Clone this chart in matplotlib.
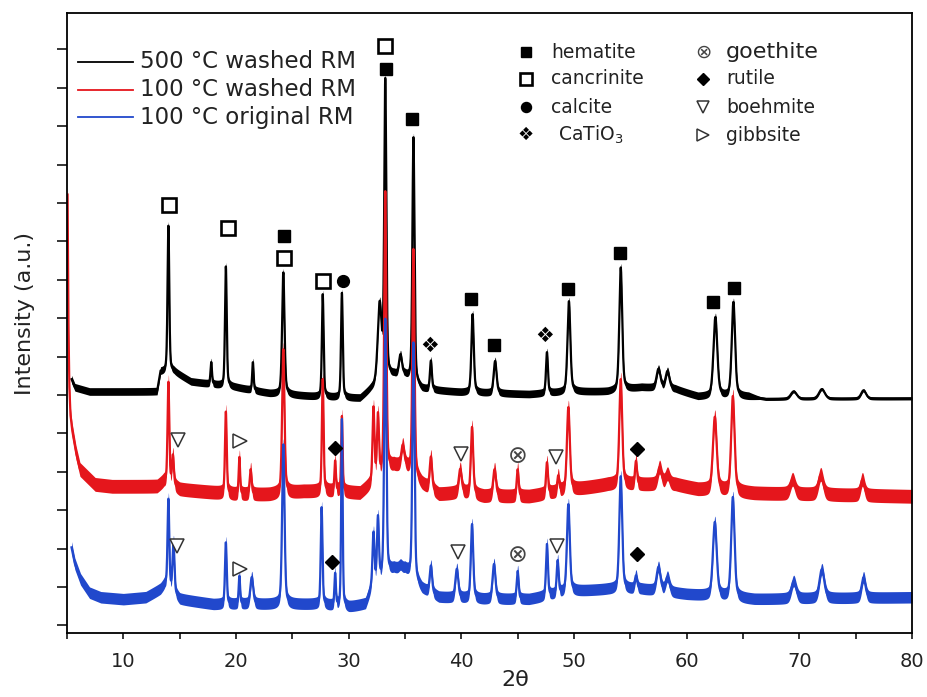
import numpy as np
import matplotlib.pyplot as plt

plt.rcParams['font.family'] = ['DejaVu Sans']

# ---- XRD patterns (2theta in degrees, intensity in a.u.) ----
# background anchors
black_bg_x = [5.4, 5.7, 7, 13.0, 13.3, 14.5, 16, 20, 23, 27, 31, 32, 34, 35, 36.5, 40, 46, 50, 53, 56, 59, 61, 65.5, 67, 80]
black_bg_y = [6.41, 6.20, 6.09, 6.09, 6.61, 6.61, 6.35, 6.20, 6.04, 5.96, 5.91, 6.15, 6.50, 6.50, 6.15, 6.07, 6.02, 6.09, 6.09, 6.20, 6.15, 5.96, 5.96, 5.89, 5.91]

red_bg_x = [5.05, 5.12, 5.2, 5.3, 5.45, 5.8, 6.15, 7.5, 9, 13, 13.6, 15, 20, 23, 26, 29, 31, 32, 34, 35, 36.5, 38, 40, 42, 46, 50, 53, 56, 59, 61, 66, 80]
red_bg_y = [11.22, 8.0, 6.3, 5.5, 5.10, 4.50, 4.06, 3.67, 3.62, 3.62, 3.75, 3.54, 3.41, 3.41, 3.49, 3.49, 3.44, 3.67, 4.14, 4.14, 3.67, 3.41, 3.46, 3.36, 3.36, 3.54, 3.67, 3.67, 3.67, 3.54, 3.44, 3.36]

blue_bg_x = [5.4, 5.7, 6.2, 7, 8, 10, 12, 13.3, 13.7, 15, 18, 23, 27, 30, 31.5, 32, 34, 35, 36.5, 38, 42, 46, 50, 53, 56, 60, 66, 80]
blue_bg_y = [2.03, 1.60, 1.20, 0.85, 0.73, 0.68, 0.73, 0.94, 1.07, 0.68, 0.55, 0.55, 0.55, 0.47, 0.55, 0.94, 1.46, 1.46, 0.94, 0.73, 0.68, 0.68, 0.89, 0.94, 0.94, 0.81, 0.68, 0.73]

# peaks: position, apex, width (FWHM)
black_pos = [14.0, 17.8, 19.1, 21.5, 24.2, 27.7, 29.4, 32.75, 33.25, 34.6, 35.75, 37.3, 41.0, 43.0, 47.6, 49.55, 54.15, 57.5, 58.3, 62.55, 64.15, 69.5, 72.0, 75.7]
black_top = [10.42, 6.85, 9.35, 6.85, 9.19, 8.62, 8.65, 8.3, 14.14, 7.01, 12.71, 6.88, 8.10, 6.88, 7.11, 8.44, 9.32, 6.67, 6.61, 8.02, 8.41, 6.09, 6.15, 6.12]
black_fwhm = [0.18, 0.15, 0.18, 0.15, 0.25, 0.18, 0.18, 0.4, 0.22, 0.3, 0.22, 0.2, 0.25, 0.3, 0.2, 0.3, 0.3, 0.4, 0.4, 0.4, 0.35, 0.6, 0.6, 0.5]

red_pos = [14.0, 14.4, 19.1, 20.3, 21.3, 24.2, 27.7, 28.8, 29.4, 32.2, 32.6, 33.25, 34.8, 35.75, 37.3, 39.9, 40.95, 42.95, 45.0, 47.6, 48.6, 49.5, 54.15, 55.5, 57.6, 58.3, 62.5, 64.1, 69.4, 71.9, 75.6]
red_top = [6.33, 4.40, 5.57, 4.38, 4.06, 7.19, 6.41, 4.27, 5.44, 5.63, 5.42, 11.28, 4.66, 9.79, 4.38, 4.06, 5.16, 4.06, 4.06, 4.24, 3.88, 5.68, 6.41, 4.27, 4.11, 3.93, 5.42, 5.96, 3.80, 3.93, 3.80]
red_fwhm = [0.18, 0.2, 0.18, 0.15, 0.2, 0.25, 0.18, 0.15, 0.15, 0.2, 0.2, 0.22, 0.3, 0.22, 0.25, 0.3, 0.25, 0.3, 0.2, 0.2, 0.2, 0.3, 0.3, 0.2, 0.4, 0.4, 0.4, 0.35, 0.5, 0.5, 0.4]

blue_pos = [14.0, 14.45, 19.1, 20.3, 21.4, 24.2, 27.6, 28.8, 29.4, 32.2, 32.6, 33.25, 34.6, 35.75, 37.3, 39.6, 40.95, 42.9, 45.0, 47.6, 48.55, 49.5, 54.15, 55.5, 57.5, 58.3, 62.5, 64.1, 69.5, 72.0, 75.7]
blue_top = [3.28, 2.16, 2.16, 1.28, 1.25, 4.71, 3.07, 1.33, 5.36, 2.37, 2.76, 7.97, 1.54, 7.37, 1.54, 1.46, 2.63, 1.59, 1.41, 2.11, 1.67, 3.15, 3.88, 1.28, 1.51, 1.25, 2.68, 3.33, 1.15, 1.46, 1.25]
blue_fwhm = [0.18, 0.2, 0.18, 0.15, 0.3, 0.25, 0.18, 0.15, 0.15, 0.2, 0.2, 0.22, 0.3, 0.22, 0.25, 0.3, 0.25, 0.3, 0.2, 0.2, 0.2, 0.3, 0.3, 0.25, 0.4, 0.4, 0.4, 0.35, 0.5, 0.5, 0.4]

# spread of the noisy trace (half width, a.u.)
black_noise_x = [5, 65.5, 66.5, 80]
black_noise_y = [0.10, 0.10, 0.04, 0.04]
red_noise = 0.18
blue_noise = 0.15

# phase markers (2theta, a.u.)
hematite_x = [24.25, 33.3, 35.6, 40.9, 42.9, 49.5, 54.1, 62.3, 64.2]
hematite_y = [10.13, 14.48, 13.18, 8.49, 7.29, 8.75, 9.71, 8.41, 8.78]
cancrinite_x = [14.05, 19.3, 24.25, 27.7, 33.2]
cancrinite_y = [10.96, 10.36, 9.56, 8.98, 15.1]
calcite_x = [29.5]
calcite_y = [8.98]
catio3_x = [37.2, 47.4]
catio3_y = [7.27, 7.53]
rutile_x = [28.8, 55.6, 28.5, 55.6]
rutile_y = [4.61, 4.58, 1.64, 1.85]
boehmite_x = [14.85, 40.0, 48.4, 14.75, 39.7, 48.5]
boehmite_y = [4.84, 4.45, 4.38, 2.06, 1.90, 2.06]
gibbsite_x = [20.35, 20.35]
gibbsite_y = [4.79, 1.46]
goethite_x = [45.0, 45.0]
goethite_y = [4.40, 1.82]

series_labels = ["500 °C washed RM", "100 °C washed RM", "100 °C original RM"]


def pattern(x, pos, top, fwhm, bg_x, bg_y):
    y = np.interp(x, bg_x, bg_y)
    for p, t, w in zip(pos, top, fwhm):
        h = max(t - np.interp(p, bg_x, bg_y), 0)
        d = (x - p) / w
        y = y + h * (0.6 * np.exp(-4 * np.log(2) * d ** 2) + 0.4 / (1 + 4 * d ** 2))
    return y


fig = plt.figure(figsize=(9.28, 6.97), dpi=100)
ax = fig.add_axes([67 / 928, 64 / 697, 845 / 928, 620 / 697])

colors = ['black', '#e5161c', '#2148cc']

xb = np.linspace(5.4, 80, 6000)
yb = pattern(xb, black_pos, black_top, black_fwhm, black_bg_x, black_bg_y)
nb = np.interp(xb, black_noise_x, black_noise_y)
xr = np.linspace(5.05, 80, 6000)
yr = pattern(xr, red_pos, red_top, red_fwhm, red_bg_x, red_bg_y)
xl = np.linspace(5.4, 80, 6000)
yl = pattern(xl, blue_pos, blue_top, blue_fwhm, blue_bg_x, blue_bg_y)

for (x, y, n), c, lab in zip([(xb, yb, nb), (xr, yr, red_noise), (xl, yl, blue_noise)], colors, series_labels):
    ax.fill_between(x, y - n, y + n, color=c, lw=0)
    ax.plot(x, y, color=c, lw=1.6)

# marker styles for the phases
styles = {
    'hematite': dict(marker='s', ms=8.5, mfc='black', mec='black', ls='none'),
    'cancrinite': dict(marker='s', ms=10, mfc='white', mec='black', mew=1.9, ls='none'),
    'calcite': dict(marker='o', ms=8.5, mfc='black', mec='black', ls='none'),
    'rutile': dict(marker='D', ms=7.5, mfc='black', mec='black', ls='none'),
    'boehmite': dict(marker='v', ms=10, mfc='white', mec='#333333', mew=1.1, ls='none'),
    'gibbsite': dict(marker='>', ms=10, mfc='white', mec='#333333', mew=1.1, ls='none'),
}

ax.plot(hematite_x, hematite_y, **styles['hematite'])
ax.plot(cancrinite_x, cancrinite_y, **styles['cancrinite'])
ax.plot(calcite_x, calcite_y, **styles['calcite'])
ax.plot(rutile_x, rutile_y, **styles['rutile'])
ax.plot(boehmite_x, boehmite_y, **styles['boehmite'])
ax.plot(gibbsite_x, gibbsite_y, **styles['gibbsite'])
for gx, gy in zip(goethite_x, goethite_y):
    ax.text(gx, gy, '⊗', fontsize=17, color='#444444', ha='center', va='center')
for cx, cy in zip(catio3_x, catio3_y):
    ax.text(cx, cy, '❖', fontsize=15, color='black', ha='center', va='center')

# series legend (top left)
for i, (c, lab) in enumerate(zip(colors, series_labels)):
    ly = 0.921 - i * 0.0445
    ax.plot([0.013, 0.078], [ly, ly], color=c, lw=1.3, transform=ax.transAxes)
    ax.text(0.086, ly, lab, fontsize=16.5, va='center', ha='left', color='#222222',
            transform=ax.transAxes)

# phase legend (top right)
rows = [0.937, 0.894, 0.848, 0.803]
for ry, key, lab in zip(rows[:3], ['hematite', 'cancrinite', 'calcite'], ['hematite', 'cancrinite', 'calcite']):
    st = dict(styles[key])
    st['ms'] = st['ms'] * 0.85
    ax.plot([0.543], [ry], transform=ax.transAxes, **st)
    ax.text(0.573, ry, lab, fontsize=13.5, va='center', ha='left', color='#222222', transform=ax.transAxes)
ax.text(0.543, rows[3], '❖', fontsize=13, ha='center', va='center', transform=ax.transAxes)
ax.text(0.581, rows[3], 'CaTiO$_3$', fontsize=13.5, va='center', ha='left', color='#222222',
        transform=ax.transAxes)

ax.text(0.753, rows[0], '⊗', fontsize=14, ha='center', va='center', color='#444444', transform=ax.transAxes)
ax.text(0.780, rows[0], 'goethite', fontsize=16, va='center', ha='left', color='#222222', transform=ax.transAxes)
for ry, key, lab in zip(rows[1:], ['rutile', 'boehmite', 'gibbsite'], ['rutile', 'boehmite', 'gibbsite']):
    st = dict(styles[key])
    st['ms'] = st['ms'] * 0.8
    ax.plot([0.753], [ry], transform=ax.transAxes, **st)
    ax.text(0.780, ry, lab, fontsize=13.5, va='center', ha='left', color='#222222', transform=ax.transAxes)

ax.set_xlim(5, 80)
ax.set_ylim(-0.2, 15.95)
ax.set_xticks(np.arange(10, 81, 10))
ax.set_xticks(np.arange(5, 81, 5), minor=True)
ax.set_yticks(np.arange(0, 16, 1))
ax.set_yticklabels([])
ax.tick_params(axis='x', which='both', direction='out', length=4.5, width=1.1, labelsize=14, pad=9, labelcolor='#222222')
ax.tick_params(axis='y', direction='out', length=7, width=1.1)
for sp in ax.spines.values():
    sp.set_linewidth(1.3)

ax.set_xlabel('2θ', fontsize=16, color='#222222', labelpad=0)
ax.xaxis.set_label_coords(0.531, -0.06)
ax.set_ylabel('Intensity (a.u.)', fontsize=16, color='#222222')
ax.yaxis.set_label_coords(-0.038, 0.515)

fig.savefig('out.png', dpi=100)
